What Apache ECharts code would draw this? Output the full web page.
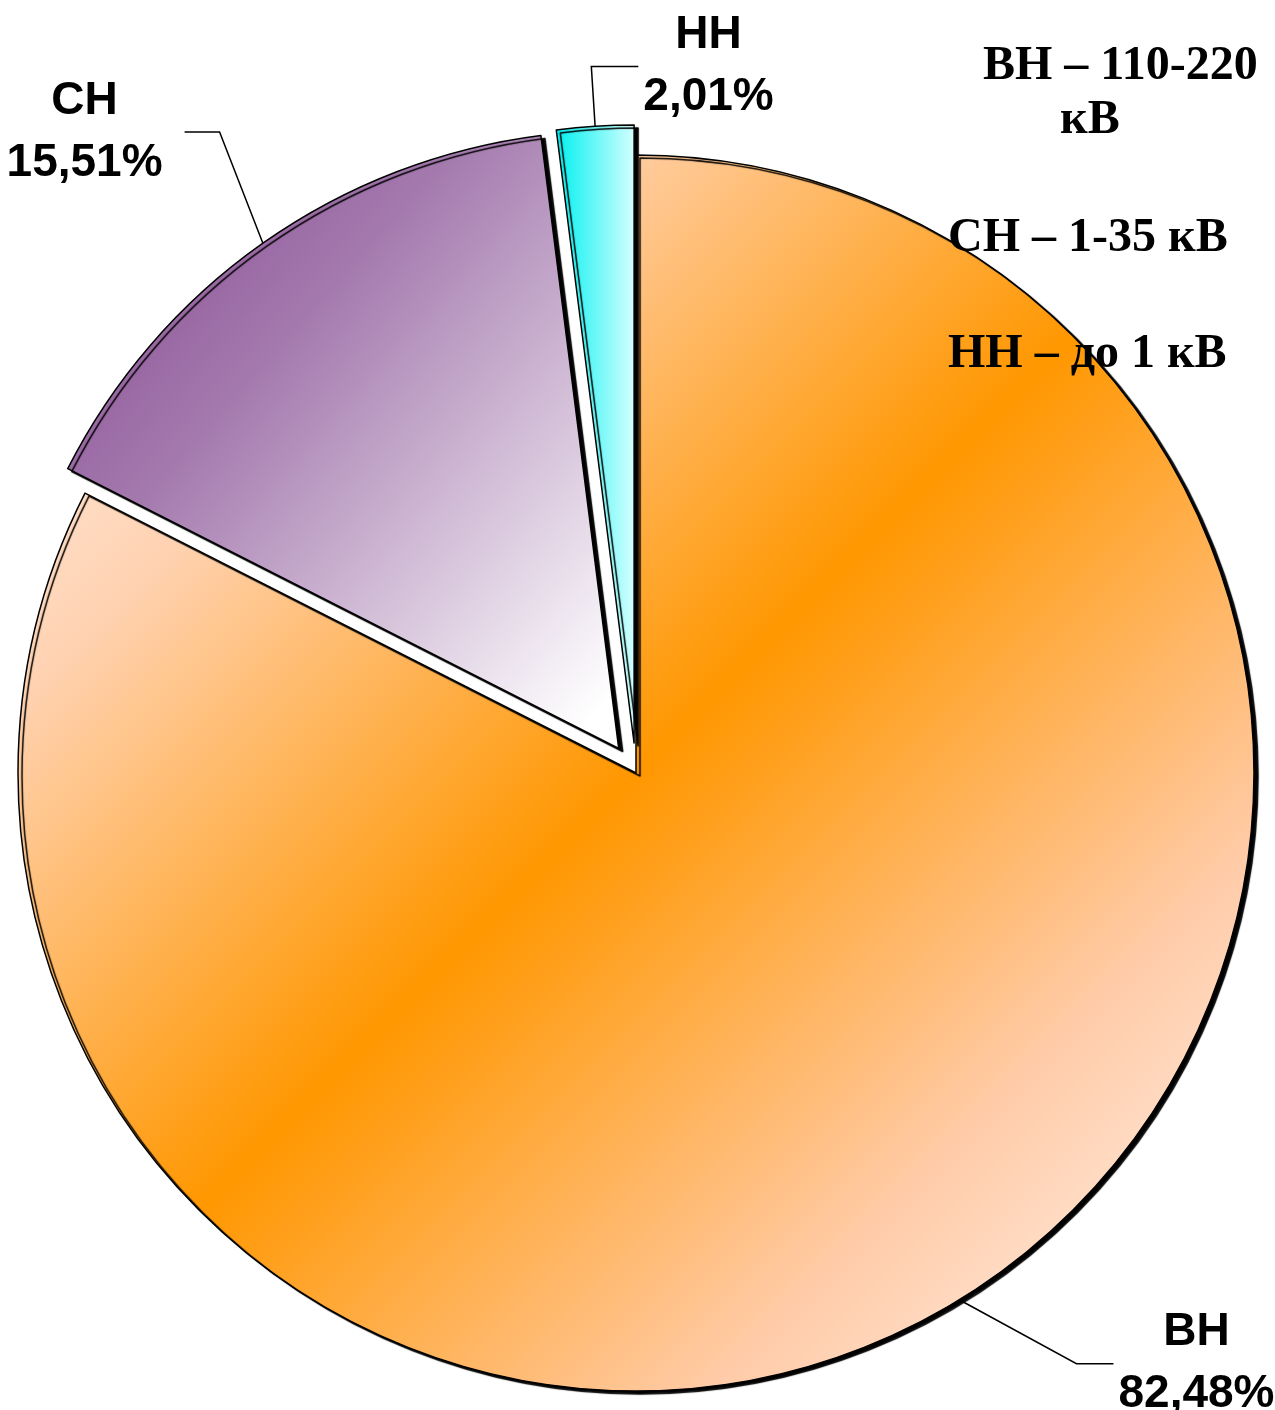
<!DOCTYPE html>
<html>
<head>
<meta charset="utf-8">
<script src="https://cdn.jsdelivr.net/npm/echarts@6/dist/echarts.min.js"></script>
<style>
html, body { margin: 0; padding: 0; background: #ffffff; }
#chart { width: 1275px; height: 1410px; }
</style>
</head>
<body>
<div id="chart"></div>
<script>
// ---- data ----
const categories = ['ВН', 'СН', 'НН'];
const shares = [82.48, 15.51, 2.01];
const explodedSlices = [false, true, true];
const legendLines = ['ВН – 110-220', 'кВ', 'СН – 1-35 кВ', 'НН – до 1 кВ'];

// ---- styles ----
const fills = [
  { type: 'linear', x: 0, y: 0, x2: 1, y2: 1, colorStops: [
    { offset: 0, color: '#FFF7F2' }, { offset: 0.22, color: '#FFD2B2' },
    { offset: 0.5, color: '#FF9700' }, { offset: 0.78, color: '#FFCBA8' },
    { offset: 1, color: '#FFFAF7' } ] },
  { type: 'linear', x: 0, y: 0.1, x2: 1, y2: 0.9, colorStops: [
    { offset: 0, color: '#884A92' }, { offset: 0.35, color: '#A47AAE' },
    { offset: 1, color: '#FFFFFF' } ] },
  { type: 'linear', x: 0, y: 0, x2: 1, y2: 0, colorStops: [
    { offset: 0, color: '#00F0F0' }, { offset: 1, color: '#D5FFFF' } ] }
];
// [length, length2, distanceToLabelLine]
const lineLens = [[75, 115, 5], [136, 17, 5], [60, 47, -99]];

const baseItem = {
  borderColor: '#000', borderWidth: 1.5,
  shadowColor: '#000', shadowBlur: 1, shadowOffsetX: 4, shadowOffsetY: 3
};

const pieData = categories.map((name, i) => ({
  name: name,
  value: shares[i],
  selected: explodedSlices[i],
  itemStyle: Object.assign({}, baseItem, { color: fills[i] }),
  select: { itemStyle: Object.assign({}, baseItem, { color: fills[i] }) },
  label: { distanceToLabelLine: lineLens[i][2] },
  labelLine: { length: lineLens[i][0], length2: lineLens[i][1] }
}));

const labelFont = { fontFamily: '"Liberation Sans", Arial, sans-serif', fontWeight: 'bold',
  fontSize: 46, lineHeight: 62, align: 'center', color: '#000' };

const legendPos = [[983, 67], [1060, 121], [948, 239], [948, 355]];

function shapeLeader(p) {
  const pts = p.labelLinePoints;
  if (!pts) return {};
  const p0 = pts[0], p1 = pts[1], p2 = pts[2];
  if (p.dataIndex === 0) {
    return { labelLinePoints: [p0, [p2[0] - 37, p2[1]], p2] };
  }
  if (p.dataIndex === 1) {
    const end = [p2[0] + 17, p2[1]];
    return { labelLinePoints: [p0, [end[0] + 35, p2[1]], end] };
  }
  const x2 = p1[0] + (p1[0] - p2[0]);
  return { align: 'left', verticalAlign: 'middle',
    labelLinePoints: [p0, p1, [x2, p1[1]]] };
}

const chart = echarts.init(document.getElementById('chart'), null, { renderer: 'canvas' });
chart.setOption({
  backgroundColor: '#ffffff',
  animation: false,
  series: [{
    type: 'pie',
    center: [636, 773],
    radius: 618,
    startAngle: 90,
    clockwise: true,
    selectedMode: 'multiple',
    selectedOffset: 30,
    avoidLabelOverlap: false,
    data: pieData,
    label: {
      show: true,
      position: 'outside',
      formatter: p => '{n|' + p.name + '}\n{v|' + p.value.toFixed(2).replace('.', ',') + '%}',
      rich: { n: labelFont, v: labelFont }
    },
    labelLine: { show: true, lineStyle: { color: '#000', width: 1.5 }, smooth: false },
    emphasis: { disabled: true },
    labelLayout: shapeLeader
  }],
  graphic: legendLines.map((t, i) => ({
    type: 'text',
    z: 100,
    x: legendPos[i][0],
    y: legendPos[i][1],
    style: {
      text: t,
      font: 'bold 48px "Liberation Serif", "Times New Roman", serif',
      fill: '#000',
      align: 'left',
      verticalAlign: 'middle'
    }
  }))
});
</script>
</body>
</html>
